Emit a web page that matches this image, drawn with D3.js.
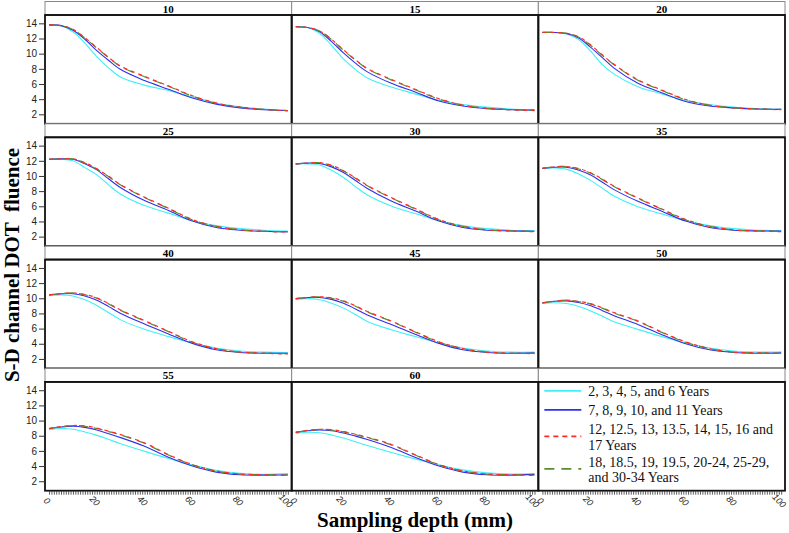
<!DOCTYPE html>
<html><head><meta charset="utf-8">
<script src="https://cdn.jsdelivr.net/npm/d3@7"></script>
<style>body{margin:0;background:#fff}svg{display:block}</style>
</head><body>
<svg id="c" width="789" height="533"></svg>
<script>
// ---------- DATA ----------
const depth = [0,5,10,15,20,25,30,40,50,60,70,80,90,100];
const panels = ["10","15","20","25","30","35","40","45","50","55","60"];
const seriesNames = [
  ["2, 3, 4, 5, and 6 Years"],
  ["7, 8, 9, 10, and 11 Years"],
  ["12, 12.5, 13, 13.5, 14, 15, 16 and", "17 Years"],
  ["18, 18.5, 19, 19.5, 20-24, 25-29,", "and 30-34 Years"]
];
const yTicks = [2,4,6,8,10,12,14];
const xTicks = [0,20,40,60,80,100];

// 2-6 years (cyan)
const cyanVals = [
  [13.8,13.7,12.9,11.4,9.6,8.1,6.9,5.85,5.15,4.3,3.5,3.0,2.7,2.5],
  [13.55,13.45,12.7,11.1,9.3,7.9,6.8,5.6,4.7,3.85,3.3,2.95,2.7,2.55],
  [12.8,12.8,12.6,11.9,10.4,8.6,7.3,5.65,4.7,3.8,3.3,2.95,2.75,2.65],
  [12.2,12.2,12.0,11.1,10.15,8.8,7.6,6.1,5.1,4.1,3.45,3.05,2.85,2.75],
  [11.6,11.6,11.45,10.75,9.8,8.6,7.5,6.05,5.05,4.1,3.45,3.05,2.85,2.8],
  [11.0,11.05,10.9,10.3,9.45,8.4,7.35,5.95,5.0,4.1,3.45,3.05,2.85,2.8],
  [10.35,10.45,10.3,9.8,9.05,8.1,7.15,5.9,4.95,4.1,3.45,3.05,2.9,2.85],
  [9.85,9.95,9.8,9.35,8.7,7.85,6.95,5.85,4.95,4.1,3.45,3.05,2.9,2.9],
  [9.3,9.4,9.3,8.95,8.35,7.65,6.9,5.9,4.95,4.1,3.45,3.05,2.9,2.95],
  [8.8,8.95,8.85,8.5,8.05,7.5,6.95,5.95,5.0,4.15,3.45,3.05,2.9,3.0],
  [8.3,8.45,8.4,8.1,7.7,7.2,6.7,5.8,4.95,4.15,3.5,3.1,2.95,3.0]
];
// 7-11 years (blue)
const blueVals = [
  [13.8,13.7,13.1,11.9,10.4,9.1,7.9,6.45,5.3,4.15,3.35,2.85,2.6,2.5],
  [13.55,13.45,12.9,11.6,10.1,8.75,7.6,6.1,4.95,3.75,3.1,2.75,2.6,2.55],
  [12.8,12.8,12.65,12.1,10.9,9.5,8.1,6.1,4.85,3.7,3.1,2.85,2.7,2.65],
  [12.2,12.25,12.2,11.6,10.8,9.6,8.45,6.75,5.45,4.05,3.2,2.85,2.7,2.63],
  [11.6,11.7,11.65,11.2,10.45,9.4,8.35,6.7,5.4,4.05,3.2,2.85,2.75,2.7],
  [11.0,11.15,11.15,10.8,10.15,9.2,8.2,6.65,5.35,4.05,3.2,2.85,2.75,2.72],
  [10.45,10.6,10.6,10.3,9.75,8.9,8.0,6.6,5.3,4.05,3.2,2.85,2.75,2.75],
  [9.95,10.1,10.1,9.85,9.35,8.6,7.8,6.55,5.25,4.05,3.2,2.85,2.75,2.8],
  [9.4,9.6,9.65,9.45,9.05,8.4,7.7,6.55,5.2,4.0,3.2,2.85,2.75,2.8],
  [8.95,9.15,9.25,9.1,8.75,8.25,7.75,6.6,5.15,4.0,3.2,2.85,2.8,2.85],
  [8.45,8.65,8.75,8.65,8.35,7.95,7.5,6.45,5.15,4.0,3.2,2.85,2.8,2.9]
];
// 12-17 years (red dashed)
const redVals = [
  [13.8,13.7,13.2,12.1,10.8,9.5,8.35,7.0,5.75,4.45,3.5,2.95,2.65,2.45],
  [13.55,13.45,13.0,11.9,10.5,9.2,8.05,6.6,5.3,4.05,3.2,2.8,2.6,2.5],
  [12.8,12.8,12.7,12.25,11.2,9.85,8.6,6.55,5.2,3.95,3.2,2.85,2.7,2.6],
  [12.2,12.25,12.25,11.75,10.95,9.95,8.85,7.2,5.75,4.25,3.35,2.9,2.7,2.6],
  [11.6,11.7,11.75,11.4,10.7,9.75,8.75,7.15,5.7,4.25,3.35,2.9,2.75,2.65],
  [11.0,11.2,11.25,11.0,10.45,9.6,8.65,7.1,5.65,4.25,3.35,2.9,2.75,2.65],
  [10.45,10.6,10.7,10.5,10.05,9.3,8.45,7.05,5.65,4.25,3.35,2.9,2.75,2.65],
  [9.95,10.1,10.2,10.05,9.65,9.0,8.25,7.0,5.6,4.25,3.35,2.9,2.75,2.7],
  [9.4,9.6,9.75,9.6,9.3,8.75,8.1,7.0,5.55,4.25,3.35,2.9,2.8,2.7],
  [8.95,9.2,9.35,9.3,9.0,8.6,8.15,7.05,5.5,4.2,3.35,2.95,2.85,2.75],
  [8.45,8.7,8.85,8.8,8.55,8.2,7.8,6.85,5.5,4.2,3.35,2.95,2.85,2.75]
];
// 18-34 years (green long dash)
const greenVals = [
  [13.8,13.7,13.2,12.05,10.75,9.45,8.3,6.95,5.7,4.4,3.45,2.95,2.65,2.5],
  [13.55,13.45,13.0,11.85,10.45,9.15,8.0,6.55,5.25,4.0,3.2,2.8,2.6,2.55],
  [12.8,12.8,12.7,12.2,11.15,9.8,8.55,6.5,5.15,3.9,3.2,2.85,2.7,2.65],
  [12.2,12.25,12.25,11.7,10.9,9.9,8.8,7.15,5.7,4.2,3.35,2.9,2.7,2.65],
  [11.6,11.7,11.75,11.35,10.65,9.7,8.7,7.1,5.65,4.2,3.35,2.9,2.75,2.7],
  [11.0,11.2,11.25,10.95,10.4,9.55,8.6,7.05,5.6,4.2,3.35,2.9,2.75,2.7],
  [10.45,10.6,10.7,10.45,10.0,9.25,8.4,7.0,5.6,4.2,3.35,2.9,2.75,2.7],
  [9.95,10.1,10.2,10.0,9.6,8.95,8.2,6.95,5.55,4.2,3.35,2.9,2.75,2.75],
  [9.4,9.6,9.75,9.55,9.25,8.7,8.05,6.95,5.5,4.2,3.35,2.9,2.8,2.75],
  [8.95,9.2,9.35,9.25,8.95,8.55,8.1,7.0,5.45,4.15,3.35,2.95,2.85,2.8],
  [8.45,8.7,8.85,8.75,8.5,8.15,7.75,6.8,5.45,4.15,3.35,2.95,2.85,2.8]
];

// ---------- STYLE / LAYOUT ----------
const seriesStyle = [
  {vals: cyanVals,  color: "#3ff0f8", dash: null,    w: 1.1},
  {vals: blueVals,  color: "#2f2ff0", dash: null,    w: 1.1},
  {vals: greenVals, color: "#5b8c2a", dash: "9,6",   w: 1.2},
  {vals: redVals,   color: "#ff2a2a", dash: "4,4",   w: 1.2}
];
const legendOrder = [0,1,3,2];

const svg = d3.select("#c");
const L = 45, R = 785, T = 1.5, rowH = 122.3, stripH = 13.5;
const colW = (R - L) / 3;

const x = d3.scaleLinear().domain([-1.7, 101.6]).range([0, colW]);
const yS = d3.scaleLinear().domain([0.75, 15.1]).range([rowH - stripH, 0]);
const line = d3.line().x((d,i)=>x(depth[i])).y(d=>yS(d)).curve(d3.curveCatmullRom.alpha(0.5));

function drawCell(r, c) {
  const gx = L + c*colW, gy = T + r*rowH;
  const g = svg.append("g").attr("transform", `translate(${gx},${gy})`);
  g.append("rect").attr("x",0).attr("y",0).attr("width",colW).attr("height",stripH)
    .attr("fill","#fff").attr("stroke","#888").attr("stroke-width",1);
  g.append("line").attr("x1",0).attr("x2",colW).attr("y1",stripH).attr("y2",stripH)
    .attr("stroke","#666").attr("stroke-width",2);
  const pg = g.append("g").attr("transform",`translate(0,${stripH})`);
  return {g, pg};
}

panels.forEach((p, k) => {
  const r = Math.floor(k/3), c = k%3;
  const {g, pg} = drawCell(r, c);
  g.append("text").attr("x", colW/2).attr("y", 11)
    .attr("text-anchor","middle").attr("font-family","Liberation Serif, Times New Roman, serif")
    .attr("font-weight","bold").attr("font-size",11).text(p);
  seriesStyle.forEach(s => {
    pg.append("path").datum(s.vals[k]).attr("d", line)
      .attr("fill","none").attr("stroke", s.color).attr("stroke-width", s.w)
      .attr("stroke-dasharray", s.dash);
  });
  pg.append("rect").attr("x",0).attr("y",0).attr("width",colW).attr("height",rowH-stripH)
    .attr("fill","none").attr("stroke","#111").attr("stroke-width",1.8);
  if (c === 0) {
    const ax = pg.append("g").call(d3.axisLeft(yS).tickValues(yTicks).tickSize(6).tickPadding(2));
    ax.select(".domain").remove();
    ax.selectAll("text").attr("font-family","Liberation Sans, Arial, sans-serif").attr("font-size",10).attr("fill","#222");
    ax.selectAll("line").attr("stroke","#333");
  }
});

// legend cell (row 4, col 3)
{
  const {g, pg} = drawCell(3, 2);
  pg.append("rect").attr("x",0).attr("y",0).attr("width",colW).attr("height",rowH-stripH)
    .attr("fill","none").attr("stroke","#111").attr("stroke-width",1.8);
  const lineY = [9, 28, 54.5, 87];
  const textY = [[14.5],[33],[52, 68.5],[85, 100.5]];
  legendOrder.forEach((si, j) => {
    const s = seriesStyle[si];
    pg.append("line").attr("x1",6).attr("x2",43).attr("y1",lineY[j]).attr("y2",lineY[j])
      .attr("stroke", s.color).attr("stroke-width", 1.6)
      .attr("stroke-dasharray", si === 3 ? "5,4" : (si === 2 ? "10,7" : null));
    seriesNames[j].forEach((t, m) => {
      pg.append("text").attr("x", 50).attr("y", textY[j][m])
        .attr("font-family","Liberation Serif, Times New Roman, serif").attr("font-size",14)
        .attr("fill","#111").text(t);
    });
  });
}

// bottom x axes
for (let c = 0; c < 3; c++) {
  const gx = L + c*colW, gy = T + 4*rowH;
  const ag = svg.append("g").attr("transform",`translate(${gx},${gy})`);
  const minor = d3.range(0, 101, 1);
  const ax = ag.append("g").call(d3.axisBottom(x).tickValues(minor).tickSize(4).tickFormat(""));
  ax.select(".domain").remove();
  ax.selectAll("line").attr("stroke","#333").attr("stroke-width",0.8);
  xTicks.forEach(t => {
    ag.append("text").attr("transform",`translate(${x(t)-2},${10}) rotate(45)`)
      .attr("text-anchor","middle").attr("dy","0.35em")
      .attr("font-family","Liberation Sans, Arial, sans-serif").attr("font-style","italic")
      .attr("font-size",9).attr("fill","#222").text(t);
  });
}

// axis titles
svg.append("text").attr("x", 415).attr("y", 527).attr("text-anchor","middle")
  .attr("font-family","Liberation Serif, Times New Roman, serif").attr("font-weight","bold")
  .attr("font-size",21).text("Sampling depth (mm)");
svg.append("text").attr("transform","translate(19,265) rotate(-90)").attr("text-anchor","middle")
  .attr("font-family","Liberation Serif, Times New Roman, serif").attr("font-weight","bold")
  .attr("font-size",21).style("white-space","pre").text("S-D channel DOT  fluence");
</script>
</body></html>
